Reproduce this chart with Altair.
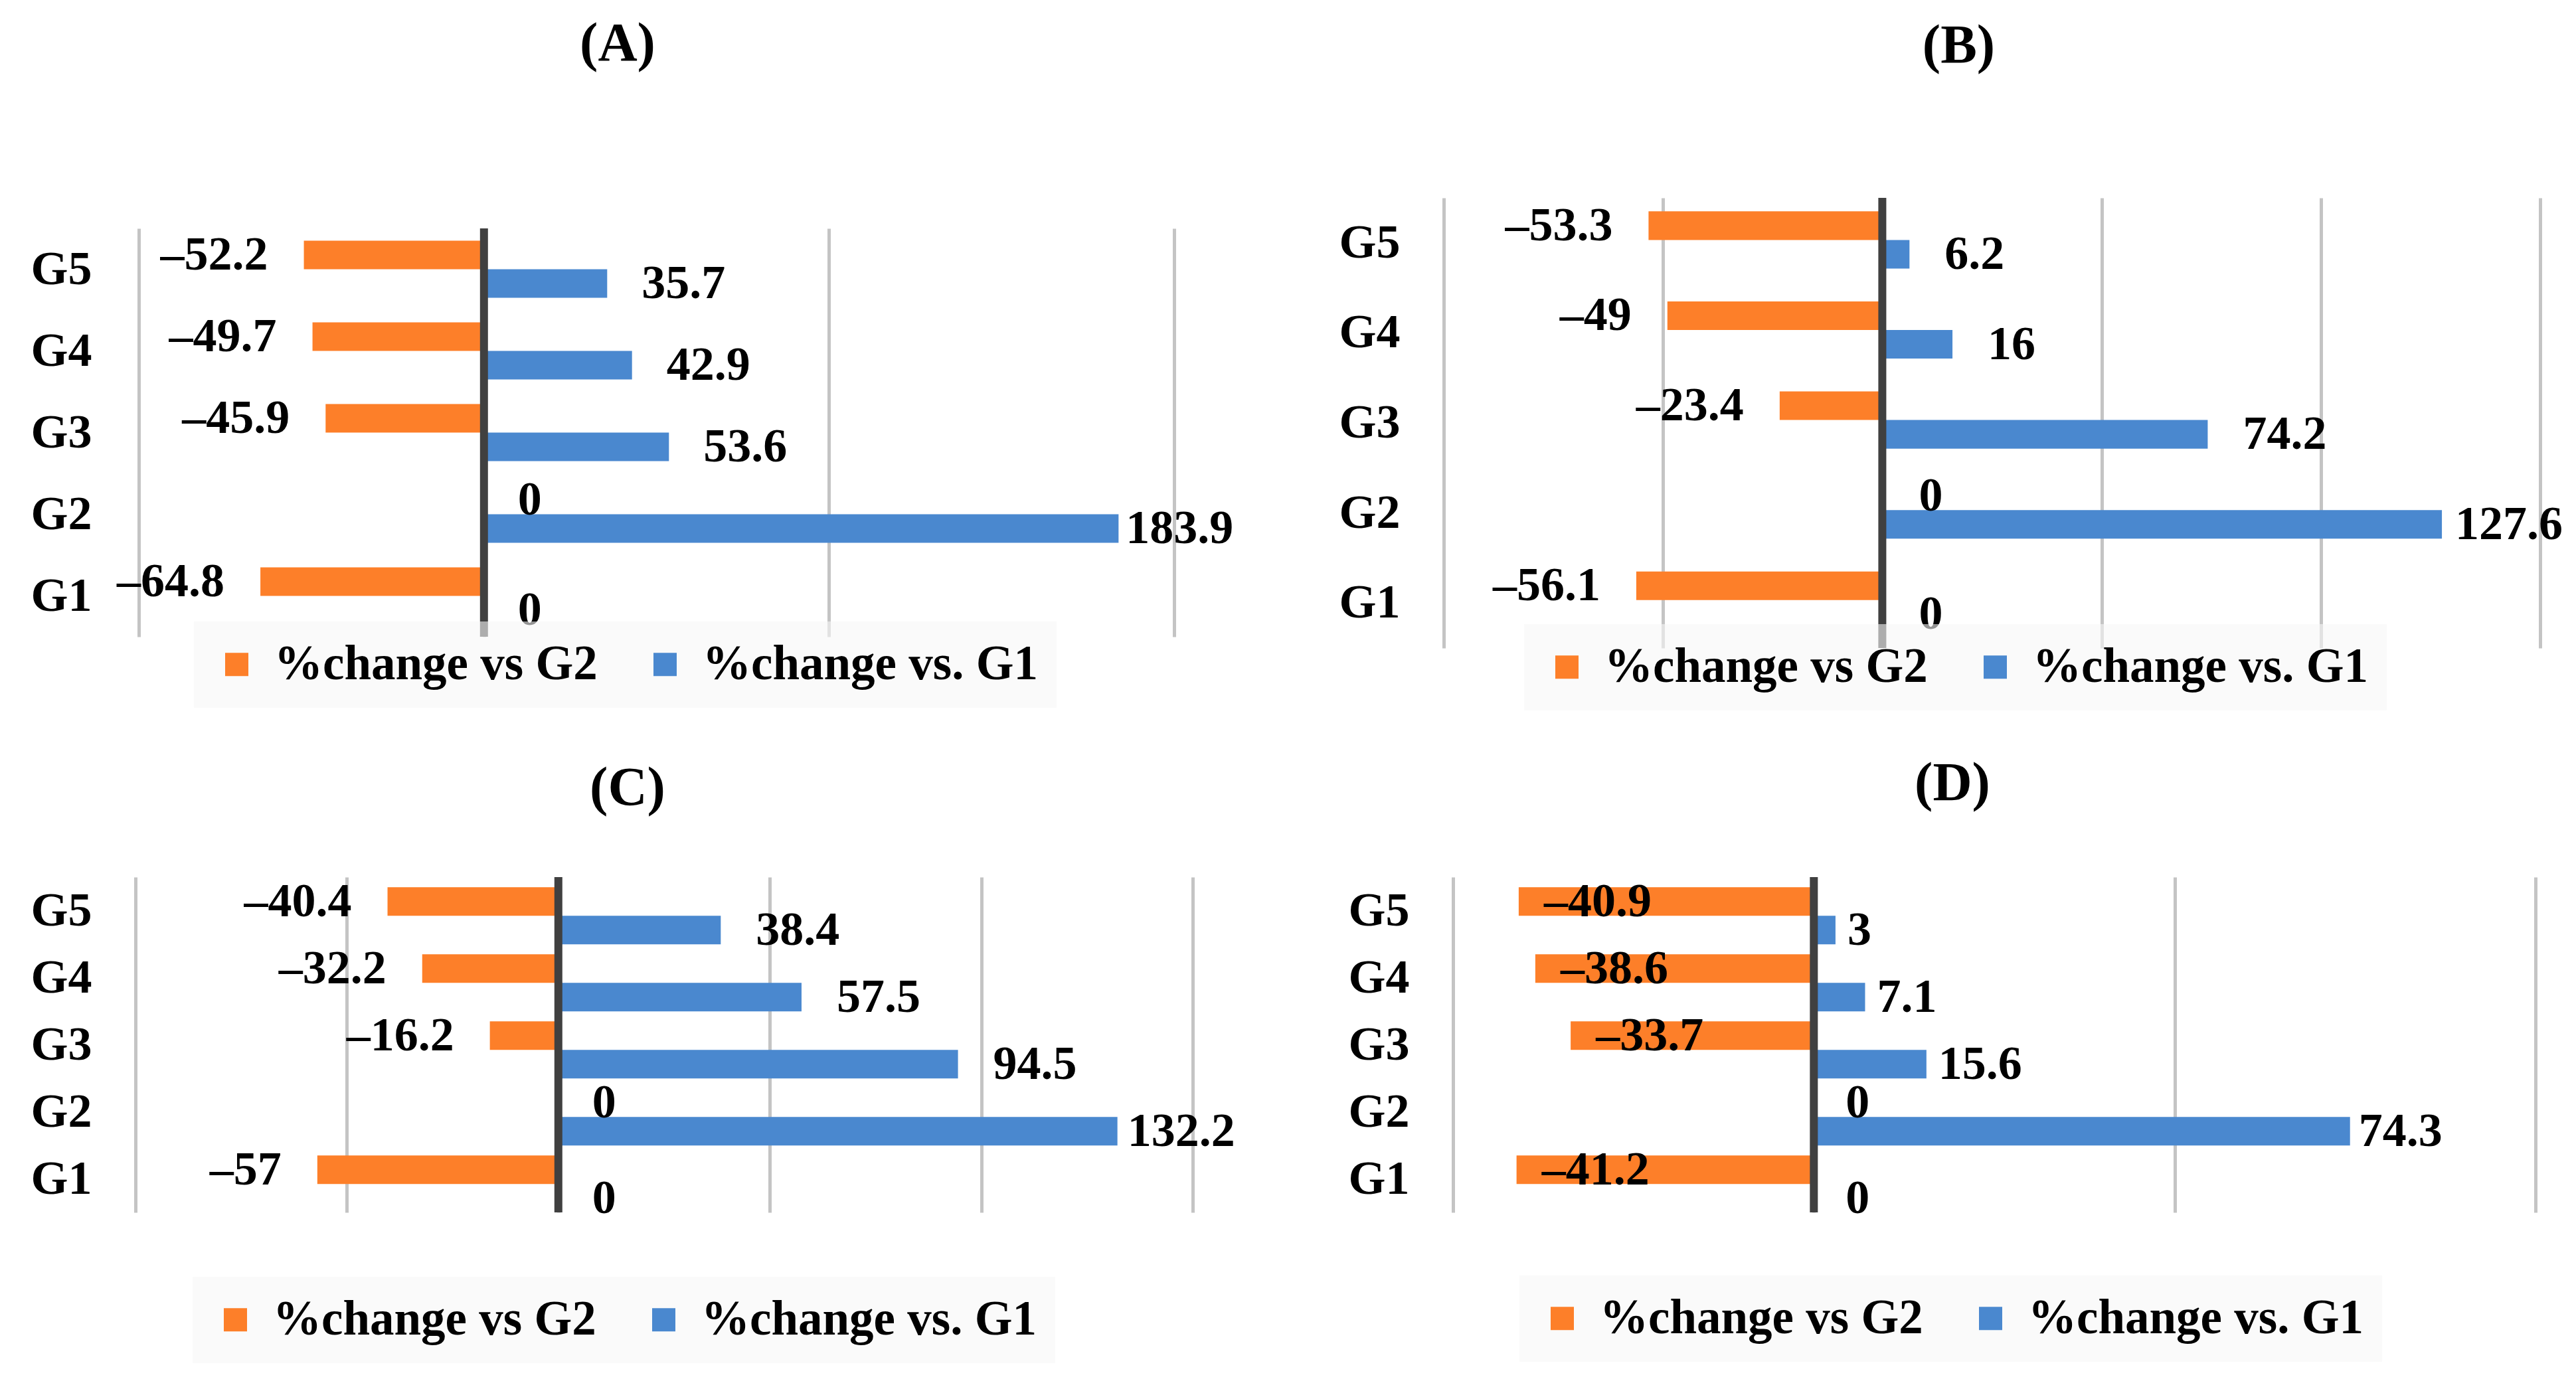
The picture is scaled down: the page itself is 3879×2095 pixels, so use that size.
import altair as alt
import pandas as pd

FONT = "Liberation Serif"
ORANGE = "#FD7F29"
BLUE = "#4A88CF"

groups = ["G1", "G2", "G3", "G4", "G5"]
series = ["%change vs G2", "%change vs. G1"]

a_vs_g2 = [-64.8, 0, -45.9, -49.7, -52.2]
a_vs_g1 = [0, 183.9, 53.6, 42.9, 35.7]
b_vs_g2 = [-56.1, 0, -23.4, -49, -53.3]
b_vs_g1 = [0, 127.6, 74.2, 16, 6.2]
c_vs_g2 = [-57, 0, -16.2, -32.2, -40.4]
c_vs_g1 = [0, 132.2, 94.5, 57.5, 38.4]
d_vs_g2 = [-41.2, 0, -33.7, -38.6, -40.9]
d_vs_g1 = [0, 74.3, 15.6, 7.1, 3]

titles = ["(A)", "(B)", "(C)", "(D)"]
a_domain = [-101, 200]
b_domain = [-100, 150]
c_domain = [-100, 150]
d_domain = [-50, 100]
a_grid = [-100, 0, 100, 200]
b_grid = [-100, -50, 0, 50, 100, 150]
c_grid = [-100, -50, 0, 50, 100, 150]
d_grid = [-50, 0, 50, 100]


def fmt(v):
    return ("%g" % v).replace("-", "\u2013")


def make_df(vs_g2, vs_g1):
    rows = []
    vmax = max(vs_g1 + vs_g2)
    for s, vals in zip(series, [vs_g2, vs_g1]):
        for g, v in zip(groups, vals):
            if v < 0:
                kind = "neg"
            elif v == 0:
                kind = "zero"
            elif v == vmax:
                kind = "max"
            else:
                kind = "pos"
            rows.append({"group": g, "series": s, "value": v, "label": fmt(v), "kind": kind})
    return pd.DataFrame(rows)


def panel(df, title, title_dx, title_offset, domain, grid_vals, width, height,
          dx_neg, dx_zero, dx_pos, dx_max, legend_x, legend_y, bottom_space=0):
    y = alt.Y("group:N", sort=groups[::-1],
              scale=alt.Scale(paddingInner=0.3, paddingOuter=0.15),
              axis=alt.Axis(title=None, ticks=False, domain=False, grid=False,
                            labelFont=FONT, labelFontSize=72, labelFontWeight="bold",
                            labelColor="black", labelPadding=66))
    yoff = alt.YOffset("series:N", sort=series,
                       scale=alt.Scale(paddingInner=0, paddingOuter=0))
    if bottom_space:
        # invisible spacer below the panel, used to place the panel vertically in its row
        x_axis = alt.Axis(values=grid_vals, labels=False, ticks=False, domain=False,
                          title=" ", titleFontSize=10, titlePadding=bottom_space - 10,
                          titleOpacity=0, grid=True, gridColor="#c4c4c4", gridWidth=5)
    else:
        x_axis = alt.Axis(values=grid_vals, labels=False, ticks=False, domain=False,
                          title=None, grid=True, gridColor="#c4c4c4", gridWidth=5)
    x = alt.X("value:Q", stack=None,
              scale=alt.Scale(domain=domain, nice=False, zero=False), axis=x_axis)
    base = alt.Chart(df)
    bars = base.mark_bar().encode(
        x=x, y=y, yOffset=yoff,
        color=alt.Color("series:N",
                        scale=alt.Scale(domain=series, range=[ORANGE, BLUE]),
                        legend=alt.Legend(title=None, orient="none",
                                          legendX=legend_x, legendY=legend_y,
                                          direction="horizontal", symbolType="square",
                                          symbolSize=1225, symbolStrokeWidth=0,
                                          labelFont=FONT, labelFontSize=73,
                                          labelFontWeight="bold", labelColor="black",
                                          labelOffset=20, labelLimit=1000,
                                          columnPadding=65, padding=28,
                                          fillColor="rgba(246,246,246,0.6)")),
    )
    zero_rule = alt.Chart(pd.DataFrame({"value": [0]})).mark_rule(
        color="#404040", strokeWidth=12).encode(x=x)

    def txt(kind, align, dx):
        return base.transform_filter(alt.datum.kind == kind).mark_text(
            align=align, baseline="middle", dx=dx, font=FONT, fontSize=72,
            fontWeight="bold", color="black").encode(
            x=x, y=y, yOffset=yoff, text="label:N")

    layers = [bars, zero_rule,
              txt("neg", "right", dx_neg),
              txt("zero", "left", dx_zero),
              txt("pos", "left", dx_pos),
              txt("max", "left", dx_max)]
    return alt.layer(*layers).properties(
        width=width, height=height,
        title=alt.TitleParams(text=title, font=FONT, fontSize=82, fontWeight="bold",
                              color="black", anchor="middle", frame="group",
                              dx=title_dx, offset=title_offset),
    )


pa = panel(make_df(a_vs_g2, a_vs_g1), titles[0], -56, 230, a_domain, a_grid, 1564, 615,
           -54, 51, 52, 11, 88, 592)
pb = panel(make_df(b_vs_g2, b_vs_g1), titles[1], -50, 181, b_domain, b_grid, 1651, 678,
           -54, 55, 53, 20, 121, 642, bottom_space=136)
pc = panel(make_df(c_vs_g2, c_vs_g1), titles[2], -55, 86, c_domain, c_grid, 1592, 505,
           -54, 51, 53, 15, 86, 602)
pd_ = panel(make_df(d_vs_g2, d_vs_g1), titles[3], -63, 93, d_domain, d_grid, 1630, 505,
            200, 48, 18, 13, 100, 600)

res = dict(color="independent", x="independent", y="independent")
row1 = alt.hconcat(pa, pb, spacing=157, center=True).resolve_scale(**res)
row2 = alt.hconcat(pc, pd_, spacing=169).resolve_scale(**res)

chart = alt.vconcat(row1, row2, spacing=27).resolve_scale(**res).properties(
    padding={"left": 37, "top": 17, "right": 10, "bottom": 10},
    background="white",
).configure_view(stroke=None)

chart.save("out.html", embed_options={"renderer": "svg", "actions": False})
